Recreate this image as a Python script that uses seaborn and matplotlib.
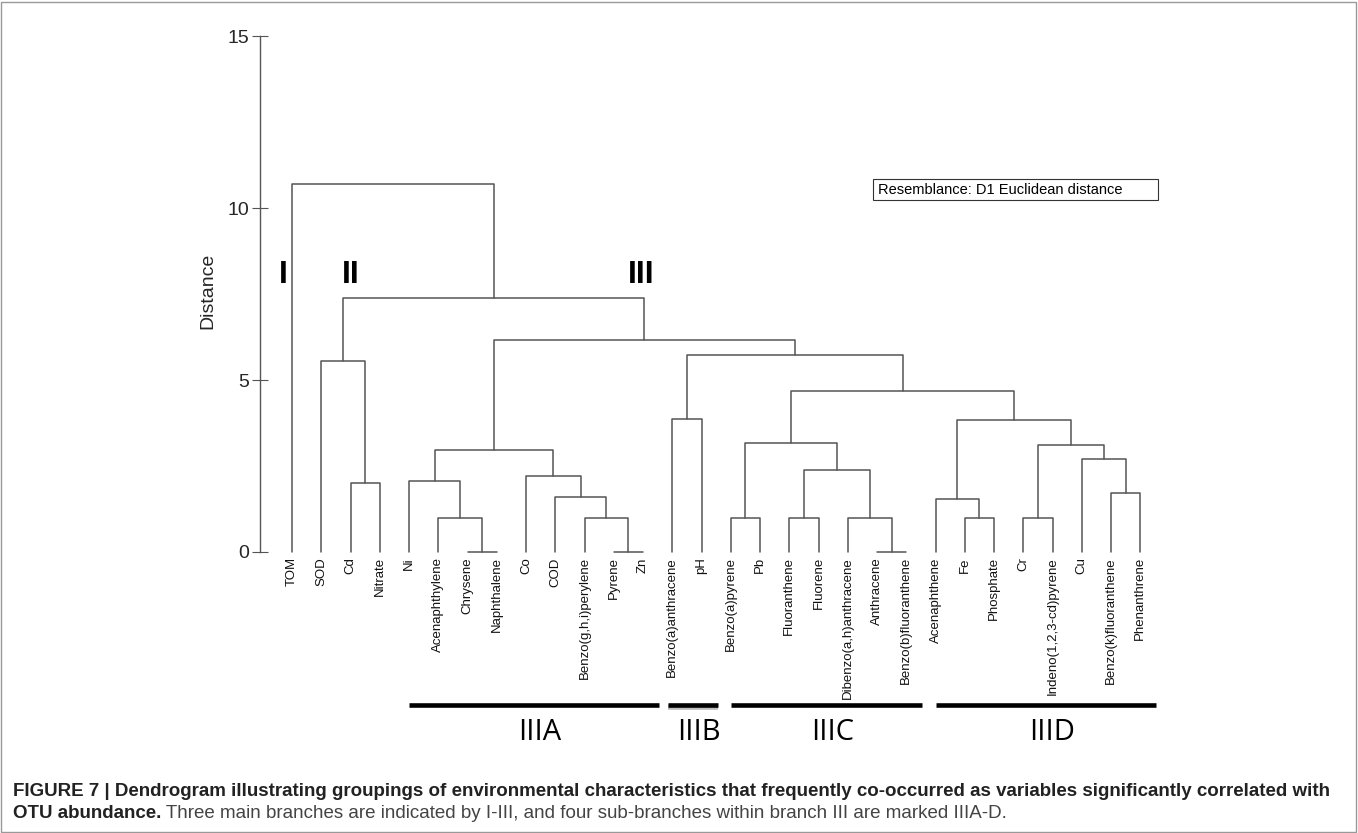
import numpy as np
import pandas as pd
import matplotlib
matplotlib.use("Agg")
import matplotlib.pyplot as plt
from matplotlib.patches import Rectangle
import seaborn as sns

# leaf order along the x axis
leaves = ["TOM", "SOD", "Cd", "Nitrate", "Ni", "Acenaphthylene", "Chrysene",
          "Naphthalene", "Co", "COD", "Benzo(g,h,i)perylene", "Pyrene", "Zn",
          "Benzo(a)anthracene", "pH", "Benzo(a)pyrene", "Pb", "Fluoranthene",
          "Fluorene", "Dibenzo(a,h)anthracene", "Anthracene",
          "Benzo(b)fluoranthene", "Acenaphthene", "Fe", "Phosphate", "Cr",
          "Indeno(1,2,3-cd)pyrene", "Cu", "Benzo(k)fluoranthene", "Phenanthrene"]

# merges: "#k" refers to the k-th merge
merge_left = ["Cd", "SOD", "Chrysene", "Acenaphthylene", "Ni", "Pyrene",
              "Benzo(g,h,i)perylene", "COD", "Co", "#4", "Benzo(a)anthracene",
              "Benzo(a)pyrene", "Fluoranthene", "Anthracene",
              "Dibenzo(a,h)anthracene", "#12", "#11", "Fe", "Acenaphthene", "Cr",
              "Benzo(k)fluoranthene", "Cu", "#19", "#18", "#16", "#10", "#9",
              "#1", "TOM"]
merge_right = ["Nitrate", "#0", "Naphthalene", "#2", "#3", "Zn", "#5", "#6", "#7",
               "#8", "pH", "Pb", "Fluorene", "Benzo(b)fluoranthene", "#13", "#14",
               "#15", "Phosphate", "#17", "Indeno(1,2,3-cd)pyrene", "Phenanthrene",
               "#20", "#21", "#22", "#23", "#24", "#25", "#26", "#27"]
merge_height = [2.00, 5.55, 0.00, 0.98, 2.06, 0.00, 0.98, 1.60, 2.21, 2.97, 3.86,
                0.98, 0.98, 0.00, 0.98, 2.38, 3.18, 0.98, 1.53, 0.98, 1.71, 2.69,
                3.10, 3.84, 4.69, 5.73, 6.15, 7.37, 10.69]

branch_labels = ["I", "II", "III"]
branch_x = [-0.31, 2.02, 11.93]
branch_y = 8.05

groups = ["IIIA", "IIIB", "IIIC", "IIID"]
group_first = ["Ni", "Benzo(a)anthracene", "Benzo(a)pyrene", "Acenaphthene"]
group_last = ["Zn", "pH", "Benzo(b)fluoranthene", "Phenanthrene"]

y_ticks = [0, 5, 10, 15]

# node positions
pos = {name: (float(i), 0.0) for i, name in enumerate(leaves)}
rows = []
for k, (a, b, h) in enumerate(zip(merge_left, merge_right, merge_height)):
    xa, ha = pos[a]
    xb, hb = pos[b]
    for px, py in [(xa, ha), (xa, h), (xb, h), (xb, hb)]:
        rows.append({"seg": k, "x": px, "y": py})
    pos["#%d" % k] = ((xa + xb) / 2, h)
segs = pd.DataFrame(rows)

sns.set_style("white")
plt.rcParams["font.family"] = ["Liberation Sans", "DejaVu Sans"]

W, H = 1358, 833
fig = plt.figure(figsize=(W / 100, H / 100), dpi=100)
ax = fig.add_axes([260 / W, 53 / H, 940 / W, 750 / H])
ax.set_xlim((260 - 292) / 29.25, (1200 - 292) / 29.25)
ax.set_ylim(-228 / 34.4, 522 / 34.4)

line_col = "#555555"
sns.lineplot(data=segs, x="x", y="y", units="seg", estimator=None, sort=False,
             color=line_col, lw=1.1, ax=ax, legend=False)

for s in ["top", "right", "bottom"]:
    ax.spines[s].set_visible(False)
ax.spines["left"].set_bounds(0, 15)
ax.spines["left"].set_color(line_col)
ax.spines["left"].set_linewidth(1.0)
ax.set_yticks(y_ticks)
ax.set_xticks([])
ax.tick_params(axis="y", direction="inout", length=11.5, width=0.8,
               color=line_col, labelsize=14, pad=2, left=True)
ax.set_xlabel("")
ax.set_ylabel("")
ax.text(-1.094 - 52 / 29.25, 7.6, "Distance", rotation=90, ha="center",
        va="center", fontsize=14)

# leaf labels
for i, name in enumerate(leaves):
    ax.text(i, -0.15, name, rotation=90, ha="center", va="top", fontsize=9.5,
            color="#111111")

# branch numerals
for lab, bx in zip(branch_labels, branch_x):
    ax.text(bx, branch_y, lab, ha="center", va="center", fontsize=23,
            fontweight="bold", color="black")

# resemblance box
fig.patches.append(Rectangle((873 / W, 1 - 200 / H), 285 / W, 21 / H,
                             transform=fig.transFigure, fill=False,
                             edgecolor="#333333", lw=0.8))
fig.text(878 / W, 1 - 190 / H, "Resemblance: D1 Euclidean distance",
         ha="left", va="center", fontsize=10.5, color="black")

# sub-branch bars
for g, a, b in zip(groups, group_first, group_last):
    x0 = leaves.index(a) - (0.15 if g == "IIIB" else 0.0)
    x1 = leaves.index(b) + 0.55
    if g == "IIIB":
        ax.plot([x0, x1], [-4.52, -4.52], color="#bbbbbb", lw=4,
                solid_capstyle="butt")
    ax.plot([x0, x1], [-4.45, -4.45], color="black", lw=3.3,
            solid_capstyle="butt")
    ax.text((x0 + x1) / 2 + 0.2, -5.25, g, ha="center", va="center",
            fontsize=21, family=["Open Sans", "DejaVu Sans"], color="black")

# caption
cap_size = 13.5
fig.text(13 / W, 1 - 791 / H,
         "FIGURE 7 | Dendrogram illustrating groupings of environmental "
         "characteristics that frequently co-occurred as variables significantly "
         "correlated with", ha="left", va="center", fontsize=cap_size,
         fontweight="bold", color="#222222")
t_bold = fig.text(13 / W, 1 - 814 / H, "OTU abundance.", ha="left", va="center",
                  fontsize=cap_size, fontweight="bold", color="#222222")
renderer = fig.canvas.get_renderer()
bb = t_bold.get_window_extent(renderer)
fig.text(bb.x1 / W, 1 - 814 / H,
         " Three main branches are indicated by I-III, and four sub-branches "
         "within branch III are marked IIIA-D.", ha="left", va="center",
         fontsize=cap_size, color="#444444")

# outer frame
fig.patches.append(Rectangle((1 / W, 1 / H), (W - 3) / W, (H - 3) / H,
                             transform=fig.transFigure, fill=False,
                             edgecolor="#999999", lw=1.0))

fig.savefig("out.png", dpi=100)
